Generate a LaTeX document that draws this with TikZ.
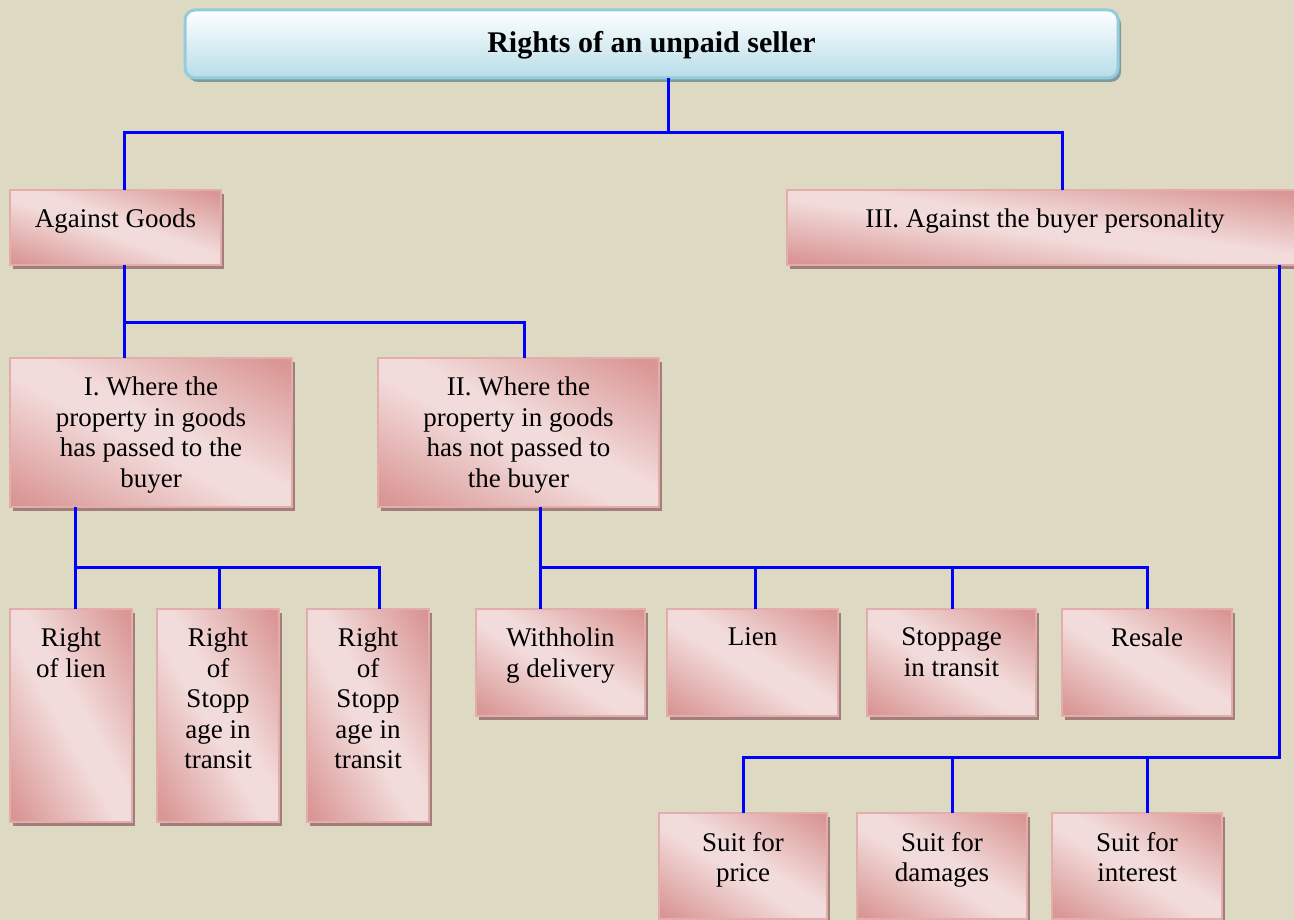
\documentclass[tikz,border=0pt]{standalone}
\usepackage{fontspec}
\setmainfont{Liberation Serif}
\usetikzlibrary{shadows}
\definecolor{bgc}{HTML}{DDD9C3}
\definecolor{pinkdark}{HTML}{D99694}
\definecolor{pinklight}{HTML}{F2DCDB}
\definecolor{pinkborder}{HTML}{E3ADAC}
\definecolor{pinkshadow}{HTML}{A27F7B}
\definecolor{titleblue}{HTML}{B7DDE8}
\definecolor{titleborder}{HTML}{93CDDD}
\definecolor{titleshadow}{HTML}{7F9B9B}
\definecolor{linkblue}{HTML}{0000FF}
\pgfdeclareverticalshading{pinkgrad}{100bp}{color(0bp)=(pinkdark); color(17bp)=(pinkdark); color(46bp)=(pinklight); color(54bp)=(pinklight); color(83bp)=(pinkdark); color(100bp)=(pinkdark)}
\tikzset{
  pinkbox/.style={rectangle, fill=pinklight, inner sep=0pt, outer sep=0pt,
    drop shadow={shadow xshift=3pt, shadow yshift=-4pt, fill=pinkshadow, opacity=1}},
  pinkshade/.style={shading=pinkgrad, shading angle=-45},
  pinkedge/.style={draw=pinkborder, line width=2pt},
  titlebox/.style={rectangle, rounded corners=10pt, draw=titleborder, line width=3pt, inner sep=0pt, outer sep=0pt,
    top color=white, bottom color=titleblue,
    drop shadow={shadow xshift=3pt, shadow yshift=-4pt, fill=titleshadow, opacity=1}},
  txt/.style={inner sep=0pt, outer sep=0pt, align=center, anchor=north,
    font=\fontsize{27}{30.5}\selectfont},
  conn/.style={draw=linkblue, line width=3pt},
}
\newcommand{\mkbox}[6]{% name, x1, y1, x2, y2, text
  \node[pinkbox, anchor=north west, minimum width={#4-#2}, minimum height={#5-#3}] (#1) at (#2,#3) {};
  \begin{scope}[transform canvas={shift={(#2,#3)}, xscale={#4-#2}, yscale={#5-#3}}]
    \shade[pinkshade] (0,0) rectangle (1,1);
  \end{scope}
  \draw[pinkedge] (#1.north west) rectangle (#1.south east);
  \node[txt] (#1t) at ([yshift=-19pt]#1.north) {#6};
}
\begin{document}
\begin{tikzpicture}[x=1pt,y=-1pt]
\useasboundingbox (0,0) rectangle (1294,920);
\fill[bgc] (0,0) rectangle (1294,920);
\clip (0,0) rectangle (1294,920);

% title
\node[titlebox, anchor=north west, minimum width=933, minimum height=68] (title) at (185,10) {};
\node[txt, font=\fontsize{30}{34}\selectfont\bfseries] (titlet) at ([yshift=-21pt]title.north) {Rights of an unpaid seller};

% level 1
\mkbox{goods}{10}{190}{221}{265}{Against Goods}
\mkbox{buyer}{787}{190}{1303}{265}{III. Against the buyer personality}

% level 2
\mkbox{passed}{10}{358}{292}{507}{I. Where the\\property in goods\\has passed to the\\buyer}
\mkbox{notpassed}{378}{358}{659}{507}{II. Where the\\property in goods\\has not passed to\\the buyer}

% level 3 left
\mkbox{lienA}{10}{609}{132}{822}{Right\\of lien}
\mkbox{stopA}{157}{609}{279}{822}{Right\\of\\Stopp\\age in\\transit}
\mkbox{stopB}{307}{609}{429}{822}{Right\\of\\Stopp\\age in\\transit}

% level 3 middle
\mkbox{withh}{476}{609}{645}{716}{Withholin\\g delivery}
\mkbox{lienB}{667}{609}{838}{716}{Lien}
\mkbox{stopC}{867}{609}{1036}{716}{Stoppage\\in transit}
\mkbox{resale}{1062}{609}{1232}{716}{Resale}

% suits
\mkbox{price}{659}{813}{827}{919}{Suit for\\price}
\mkbox{damages}{857}{813}{1027}{919}{Suit for\\damages}
\mkbox{interest}{1052}{813}{1222}{919}{Suit for\\interest}

% attach points
\coordinate (tA) at ([xshift=16.5pt]title.south);
\coordinate (gA) at ([xshift=8.5pt]goods.north);
\coordinate (gB) at ([xshift=8.5pt]goods.south);
\coordinate (bA) at ([xshift=17pt]buyer.north);
\coordinate (bB) at ([xshift=234pt]buyer.south);
\coordinate (pA) at ([xshift=-27pt]passed.north);
\coordinate (pB) at ([xshift=-76pt]passed.south);
\coordinate (nA) at ([xshift=5.5pt]notpassed.north);
\coordinate (nB) at ([xshift=21.5pt]notpassed.south);
\coordinate (l1) at ([xshift=4pt]lienA.north);
\coordinate (l2) at ([xshift=1pt]stopA.north);
\coordinate (l3) at ([xshift=11pt]stopB.north);
\coordinate (m1) at ([xshift=-20.5pt]withh.north);
\coordinate (m2) at ([xshift=2.5pt]lienB.north);
\coordinate (m3) at ([xshift=0.5pt]stopC.north);
\coordinate (m4) at (resale.north);
\coordinate (s1) at ([xshift=0.5pt]price.north);
\coordinate (s2) at ([xshift=10pt]damages.north);
\coordinate (s3) at ([xshift=10pt]interest.north);

% connectors
\draw[conn] (tA) -- ++(0,55) -| (gA);
\draw[conn] (tA) -- ++(0,55) -| (bA);
\draw[conn] (gB) -- ++(0,57) -| (pA);
\draw[conn] (gB) -- ++(0,57) -| (nA);
\draw[conn] (pB) -- ++(0,60) -| (l1);
\draw[conn] (pB) -- ++(0,60) -| (l2);
\draw[conn] (pB) -- ++(0,60) -| (l3);
\draw[conn] (nB) -- ++(0,60) -| (m1);
\draw[conn] (nB) -- ++(0,60) -| (m2);
\draw[conn] (nB) -- ++(0,60) -| (m3);
\draw[conn] (nB) -- ++(0,60) -| (m4);
\draw[conn] (bB) -- ++(0,492) -| (s1);
\draw[conn] (bB) -- ++(0,492) -| (s2);
\draw[conn] (bB) -- ++(0,492) -| (s3);
\end{tikzpicture}
\end{document}
